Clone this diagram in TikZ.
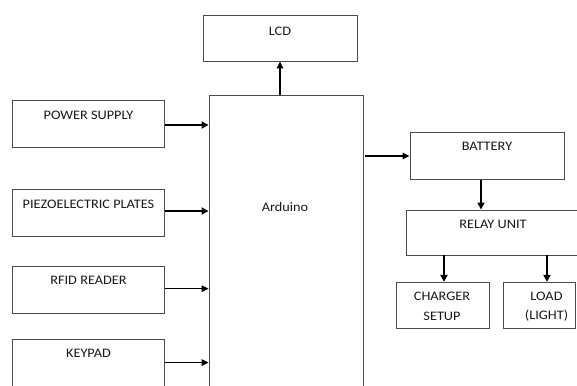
\documentclass[tikz,border=0pt]{standalone}
\usepackage{fontspec}
\setmainfont[FakeStretch=1.1]{Carlito}
\usetikzlibrary{arrows.meta}
\begin{document}
\begin{tikzpicture}[x=1pt,y=-1pt,
  box/.style={draw=black!70, line width=0.9pt, rectangle, inner sep=0pt},
  lbl/.style={font=\fontsize{13}{15}\selectfont, text=black!90, inner sep=0pt, anchor=center},
  thick arr/.style={-{Triangle[length=7pt,width=7pt]}, line width=2pt, black},
  thin arr/.style={-{Triangle[length=7pt,width=6.5pt]}, line width=1.3pt, black}]
\clip (0,0) rectangle (577,385);
\fill[white] (0,0) rectangle (577,385);
% boxes
\node[box, minimum width=154pt, minimum height=46pt] (lcd) at (280,38) {};
\node[box, minimum width=154pt, minimum height=320pt] (ard) at (286,255.7) {};
\node[box, minimum width=152pt, minimum height=47pt] (ps) at (88.5,124) {};
\node[box, minimum width=152pt, minimum height=47pt] (pz) at (88.5,213) {};
\node[box, minimum width=152pt, minimum height=46.5pt] (rf) at (88.5,290) {};
\node[box, minimum width=152pt, minimum height=60pt] (kp) at (88.5,369) {};
\node[box, minimum width=154pt, minimum height=46.5pt] (bat) at (487,156) {};
\node[box, minimum width=200pt, minimum height=45pt] (rel) at (506,232.5) {};
\node[box, minimum width=93pt, minimum height=46pt] (chg) at (442.5,305.3) {};
\node[box, minimum width=72pt, minimum height=46pt] (load) at (539,305.3) {};
% labels
\node[lbl] (lcdl) at (280,31) {LCD};
\node[lbl] (ardl) at (285,207) {Arduino};
\node[lbl] (psl) at (88.5,115) {POWER SUPPLY};
\node[lbl] (pzl) at (88.5,204) {PIEZOELECTRIC PLATES};
\node[lbl] (rfl) at (88.5,280) {RFID READER};
\node[lbl] (kpl) at (88.5,353) {KEYPAD};
\node[lbl] (batl) at (487,146.5) {BATTERY};
\node[lbl] (rell) at (493,224) {RELAY UNIT};
\node[lbl] (chgl1) at (442,296.5) {CHARGER};
\node[lbl] (chgl2) at (442,316) {SETUP};
\node[lbl] (loadl1) at (546.5,296.5) {LOAD};
\node[lbl] (loadl2) at (546.5,316) {(LIGHT)};
% connectors
\draw[thin arr] (lcd.south |- ard.north) -- (lcd.south);
\draw[thick arr] ([yshift=-1pt]ps.east) -- ([yshift=-1pt]ps.east -| ard.west);
\draw[thick arr] ([yshift=2pt]pz.east) -- ([yshift=2pt]pz.east -| ard.west);
\draw[thin arr] ([yshift=1.3pt]rf.east) -- ([yshift=1.3pt]rf.east -| ard.west);
\draw[thin arr] ([yshift=-24pt]kp.north east) -- ([yshift=-24pt]kp.north east -| ard.west);
\draw[thin arr, line width=1.5pt] ([xshift=2pt]ard.east |- bat.west) -- (bat.west);
\draw[thick arr] ([xshift=-6pt]bat.south) -- ([xshift=-6pt]bat.south |- rel.north);
\draw[thick arr] ([xshift=1.5pt]chg.north |- rel.south) -- ([xshift=1.5pt]chg.north);
\draw[thick arr] ([xshift=8pt]load.north |- rel.south) -- ([xshift=8pt]load.north);
\end{tikzpicture}
\end{document}
